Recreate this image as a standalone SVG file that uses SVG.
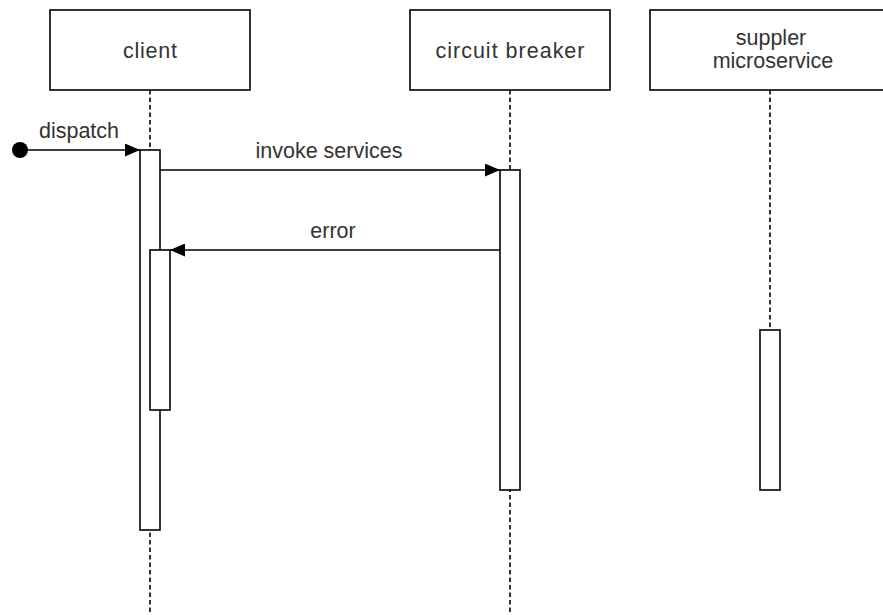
<svg xmlns="http://www.w3.org/2000/svg" width="883" height="615" viewBox="0 0 883 615">
  <style>
    .box { fill: #ffffff; stroke: #000000; stroke-width: 1.6; }
    .act { fill: #ffffff; stroke: #000000; stroke-width: 1.6; }
    .life { fill: none; stroke: #000000; stroke-width: 1.6; stroke-dasharray: 4.5 3; }
    .msg { fill: none; stroke: #000000; stroke-width: 1.6; }
    text { font-family: "Liberation Sans", Arial, Helvetica, sans-serif; font-size: 21.5px; fill: #333333; text-anchor: middle; }
  </style>
  <defs>
    <marker id="block" viewBox="0 0 15 13" refX="15" refY="6.5" markerWidth="15" markerHeight="13" markerUnits="userSpaceOnUse" orient="auto">
      <path d="M0,0 L15,6.5 L0,13 Z" fill="#000000"/>
    </marker>
  </defs>

  <rect width="883" height="615" fill="#ffffff"/>

  <!-- lifelines (drawn first so activation bars sit on top) -->
  <g id="lifelines">
    <line class="life" x1="150" y1="90" x2="150" y2="615"/>
    <line class="life" x1="510" y1="90" x2="510" y2="615"/>
    <line class="life" x1="770" y1="90" x2="770" y2="330"/>
  </g>

  <g id="client">
    <rect class="box" x="50" y="10" width="200" height="80"/>
    <text x="150" y="58" textLength="54">client</text>
    <rect class="act" x="140" y="150" width="20" height="380"/>
    <rect class="act" x="150" y="250" width="20" height="160"/>
  </g>

  <g id="circuit-breaker">
    <rect class="box" x="410" y="10" width="200" height="80"/>
    <text x="510" y="58" textLength="149">circuit breaker</text>
    <rect class="act" x="500" y="170" width="20" height="320"/>
  </g>

  <g id="supplier-microservice">
    <rect class="box" x="650" y="10" width="240" height="80"/>
    <text x="771" y="45">suppler</text>
    <text x="773" y="68">microservice</text>
    <rect class="act" x="760" y="330" width="20" height="160"/>
  </g>

  <g id="connectors">
    <circle cx="20" cy="150" r="8" fill="#000000"/>
    <line class="msg" x1="20" y1="150" x2="140" y2="150" marker-end="url(#block)"/>
    <text x="79" y="138">dispatch</text>

    <line class="msg" x1="160" y1="170" x2="500" y2="170" marker-end="url(#block)"/>
    <text x="329" y="158">invoke services</text>

    <line class="msg" x1="500" y1="250" x2="170" y2="250" marker-end="url(#block)"/>
    <text x="333" y="238">error</text>
  </g>
</svg>
